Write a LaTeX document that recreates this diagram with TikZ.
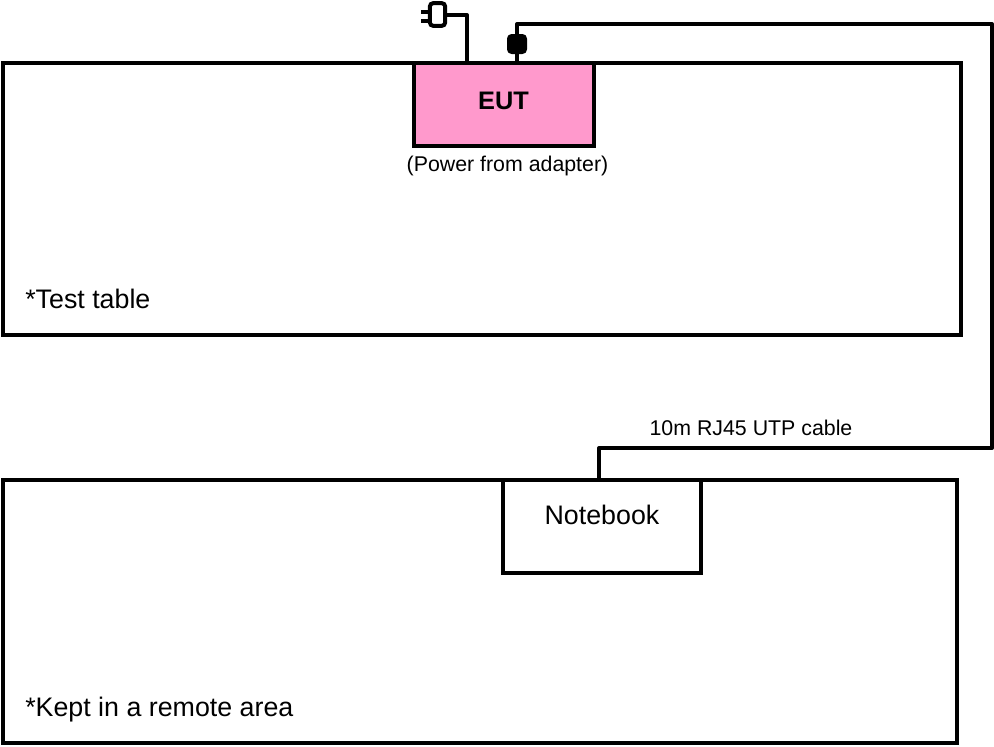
\documentclass[tikz,border=0pt]{standalone}
\usepackage{fontspec}
\setmainfont{Liberation Sans}
\tikzset{
  px/.style={x=0.75pt,y=-0.75pt},
  wire/.style={line width=3pt,line join=round,black},
  boxed/.style={draw=black,line width=3pt,inner sep=0pt,outer sep=0pt,rectangle},
  big/.style={font=\fontsize{20.1pt}{24pt}\selectfont,inner sep=0pt},
  mid/.style={font=\fontsize{16pt}{19pt}\selectfont,inner sep=0pt},
  bigb/.style={font=\fontsize{19pt}{23pt}\selectfont\bfseries,inner sep=0pt},
}
\begin{document}
\begin{tikzpicture}[px]
\useasboundingbox (0,0) rectangle (994,746);
\node[boxed,minimum width=718.5pt,minimum height=204pt,anchor=north west] (table) at (3,63) {};
\node[boxed,minimum width=715.5pt,minimum height=197.25pt,anchor=north west] (remote) at (3,480) {};
\node[boxed,fill={rgb,255:red,255;green,153;blue,204},minimum width=135pt,minimum height=62.25pt,anchor=north west] (eut) at (414,63) {};
\node[bigb] at (503.5,101) {EUT};
\node[boxed,fill=white,minimum width=148.5pt,minimum height=69.75pt,anchor=north west] (nb) at (503,480) {};
\node[big] (nblabel) at (602,515) {Notebook};
\node[mid] (pwrlabel) at (507.5,166) {(Power from adapter)};
\node[mid] (cablelabel) at (751,428) {10m RJ45 UTP cable};
\node[big,anchor=base west] (t1) at (25,308) {*Test table};
\node[big,anchor=base west] (t2) at (25,716) {*Kept in a remote area};
% RJ45 plug
\node[draw=black,fill=black,line width=1pt,rounded corners=3pt,minimum width=14pt,minimum height=14pt,inner sep=0pt,outer sep=0pt] (rj) at (517,44) {};
% mains plug
\node[draw=black,fill=white,line width=3pt,rounded corners=2.5pt,minimum width=11.5pt,minimum height=17pt,inner sep=0pt,outer sep=0pt] (pw) at (437.5,14.5) {};
\coordinate (p1) at (421,12);
\coordinate (p2) at (421,21);
\draw[wire,line cap=butt] (p1) -- (p1-|pw.west);
\draw[wire,line cap=butt] (p2) -- (p2-|pw.west);
\coordinate (pwc) at (467,15);
\draw[wire] (pw.east|-pwc) -- (pwc) -- (pwc|-eut.north);
\coordinate (c1) at (517,24);
\coordinate (c2) at (992,24);
\coordinate (c3) at (992,448);
\coordinate (c4) at (599,448);
\draw[wire] (rj.south) -- (rj.south|-eut.north);
\draw[wire] (rj.north) -- (c1) -- (c2) -- (c3) -- (c4) -- (c4|-nb.north);
\end{tikzpicture}
\end{document}
